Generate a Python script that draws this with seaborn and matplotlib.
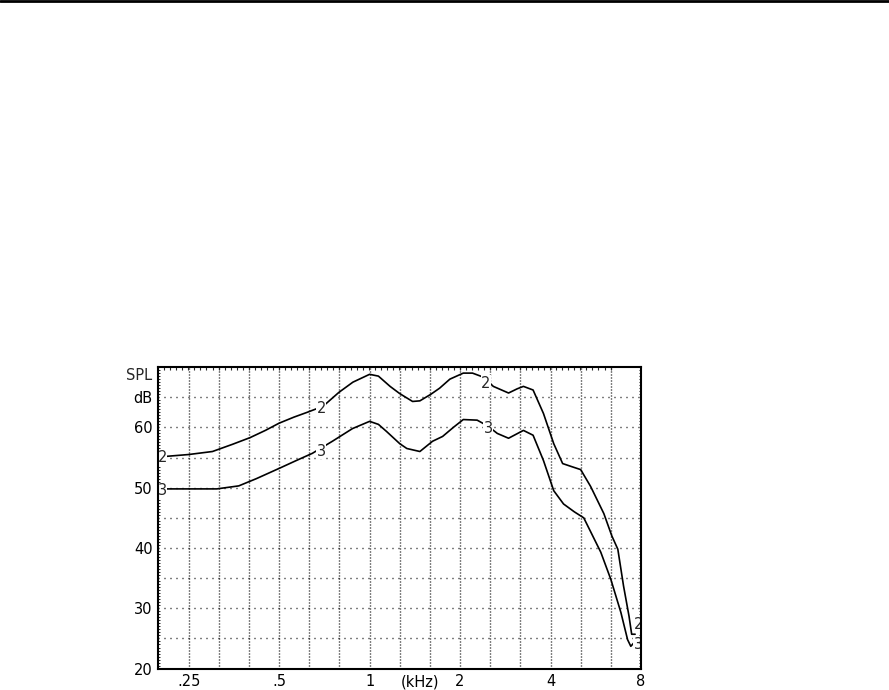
import numpy as np
import pandas as pd
import seaborn as sns
from matplotlib import pyplot as plt
from matplotlib.lines import Line2D
from matplotlib.ticker import FixedLocator, NullFormatter

# frequency response curves (kHz, dB SPL)
freq_2 = [0.211, 0.25, 0.3, 0.35, 0.4, 0.45, 0.5, 0.56, 0.62, 0.7, 0.79, 0.88, 1.0, 1.07,
          1.17, 1.26, 1.39, 1.47, 1.6, 1.71, 1.85, 2.05, 2.2, 2.4, 2.58, 2.75, 2.9, 3.1, 3.25,
          3.5, 3.79, 4.1, 4.39, 4.7, 5.04, 5.44, 6.02, 6.4, 6.7, 7.0, 7.3, 7.45, 7.65]
spl_2 = [55.2, 55.5, 56.0, 57.2, 58.3, 59.5, 60.7, 61.7, 62.5, 63.5, 65.8, 67.5, 68.8, 68.5,
         66.8, 65.6, 64.3, 64.4, 65.5, 66.5, 68.0, 69.0, 69.0, 68.3, 66.8, 66.2, 65.7, 66.4, 66.8,
         66.2, 62.3, 57.3, 54.0, 53.5, 53.0, 50.2, 45.7, 42.0, 39.8, 33.7, 28.7, 25.7, 25.7]

freq_3 = [0.211, 0.25, 0.31, 0.367, 0.42, 0.5, 0.57, 0.645, 0.752, 0.877, 1.0, 1.07, 1.14,
          1.26, 1.33, 1.47, 1.62, 1.75, 1.9, 2.05, 2.28, 2.48, 2.66, 2.9, 3.25, 3.5, 3.79,
          4.1, 4.42, 4.8, 5.16, 5.44, 5.88, 6.35, 6.86, 7.22, 7.4, 7.65]
spl_3 = [49.8, 49.8, 49.8, 50.3, 51.5, 53.2, 54.5, 55.7, 57.7, 59.8, 61.0, 60.5, 59.3,
         57.3, 56.5, 56.0, 57.7, 58.5, 60.0, 61.3, 61.2, 60.2, 59.0, 58.2, 59.5, 58.7, 54.5,
         49.5, 47.3, 46.0, 45.0, 42.7, 39.3, 34.8, 29.3, 24.8, 23.7, 24.5]

# curve number labels placed along each curve
label_freq_2 = [0.204, 0.69, 2.44, 7.85]
label_spl_2 = [55.0, 63.2, 67.3, 27.3]
label_freq_3 = [0.204, 0.69, 2.48, 7.85]
label_spl_3 = [49.5, 56.0, 59.8, 24.0]

x_ticks = [0.25, 0.5, 1, 1.47, 2, 4, 8]
x_tick_labels = [".25", ".5", "1", "(kHz)", "2", "4", "8"]
y_ticks = [20, 25, 30, 35, 40, 45, 50, 55, 60, 65]
y_tick_labels = ["20", "", "30", "", "40", "", "50", "", "60", "dB"]

sns.set_style("white")
plt.rcParams["font.family"] = ["DejaVu Sans"]

df = pd.concat([
    pd.DataFrame({"freq": freq_2, "spl": spl_2, "curve": "2"}),
    pd.DataFrame({"freq": freq_3, "spl": spl_3, "curve": "3"}),
])

fig = plt.figure(figsize=(8.89, 6.9), dpi=100)
ax = fig.add_axes([0.178, 0.031, 0.543, 0.437])

sns.lineplot(data=df, x="freq", y="spl", units="curve", estimator=None, sort=False,
             color="black", linewidth=1.2, ax=ax, legend=False)

# labels sit above the curves but under the frame
for fx, fy in zip(label_freq_2, label_spl_2):
    ax.text(fx, fy, "2", ha="center", va="center", fontsize=10.5,
            bbox=dict(facecolor="white", edgecolor="none", pad=0.3), zorder=2.2)
for fx, fy in zip(label_freq_3, label_spl_3):
    ax.text(fx, fy, "3", ha="center", va="center", fontsize=10.5,
            bbox=dict(facecolor="white", edgecolor="none", pad=0.3), zorder=2.2)

ax.set_xscale("log", base=2)
ax.set_xlim(0.198, 8.0)
ax.set_ylim(20, 70)

ax.set_xticks(x_ticks)
ax.set_xticklabels(x_tick_labels)
ax.set_yticks(y_ticks)
ax.set_yticklabels(y_tick_labels)
ax.xaxis.set_minor_locator(FixedLocator([0.198 * 2 ** (k / 15) for k in range(76)]))
ax.xaxis.set_minor_formatter(NullFormatter())
ax.yaxis.set_minor_locator(FixedLocator(np.arange(20, 70.01, 0.5)))
ax.yaxis.set_minor_formatter(NullFormatter())

ax.tick_params(axis="both", which="major", length=0, labelsize=10.5, colors="black")
ax.tick_params(axis="x", which="major", pad=4)
ax.tick_params(axis="y", which="major", pad=4)
ax.tick_params(axis="x", which="minor", bottom=False, top=True, direction="in", length=2.2, width=0.8)
ax.tick_params(axis="y", which="minor", left=True, right=True, direction="in", length=1.6, width=0.7)

# dotted grid: horizontal every 5 dB, vertical every third octave
ax.yaxis.grid(True, which="major", color="black", linewidth=1, linestyle=(0, (0.72, 3.6)))
for f in [0.25 * 2 ** (k / 3) for k in range(16)]:
    ax.axvline(f, color="black", linewidth=1, linestyle=(0, (0.72, 1.44)), zorder=0.5)

ax.text(-0.012, 68.6, "SPL", transform=ax.get_yaxis_transform(), ha="right", va="center",
        fontsize=10.5)

for side in ["left", "right", "top", "bottom"]:
    ax.spines[side].set_color("black")
    ax.spines[side].set_linewidth(1.5)
    ax.spines[side].set_zorder(3)
ax.set_xlabel("")
ax.set_ylabel("")

fig.add_artist(Line2D([0, 1], [0.999, 0.999], transform=fig.transFigure, color="black", linewidth=2))

fig.savefig("out.png", dpi=100)
